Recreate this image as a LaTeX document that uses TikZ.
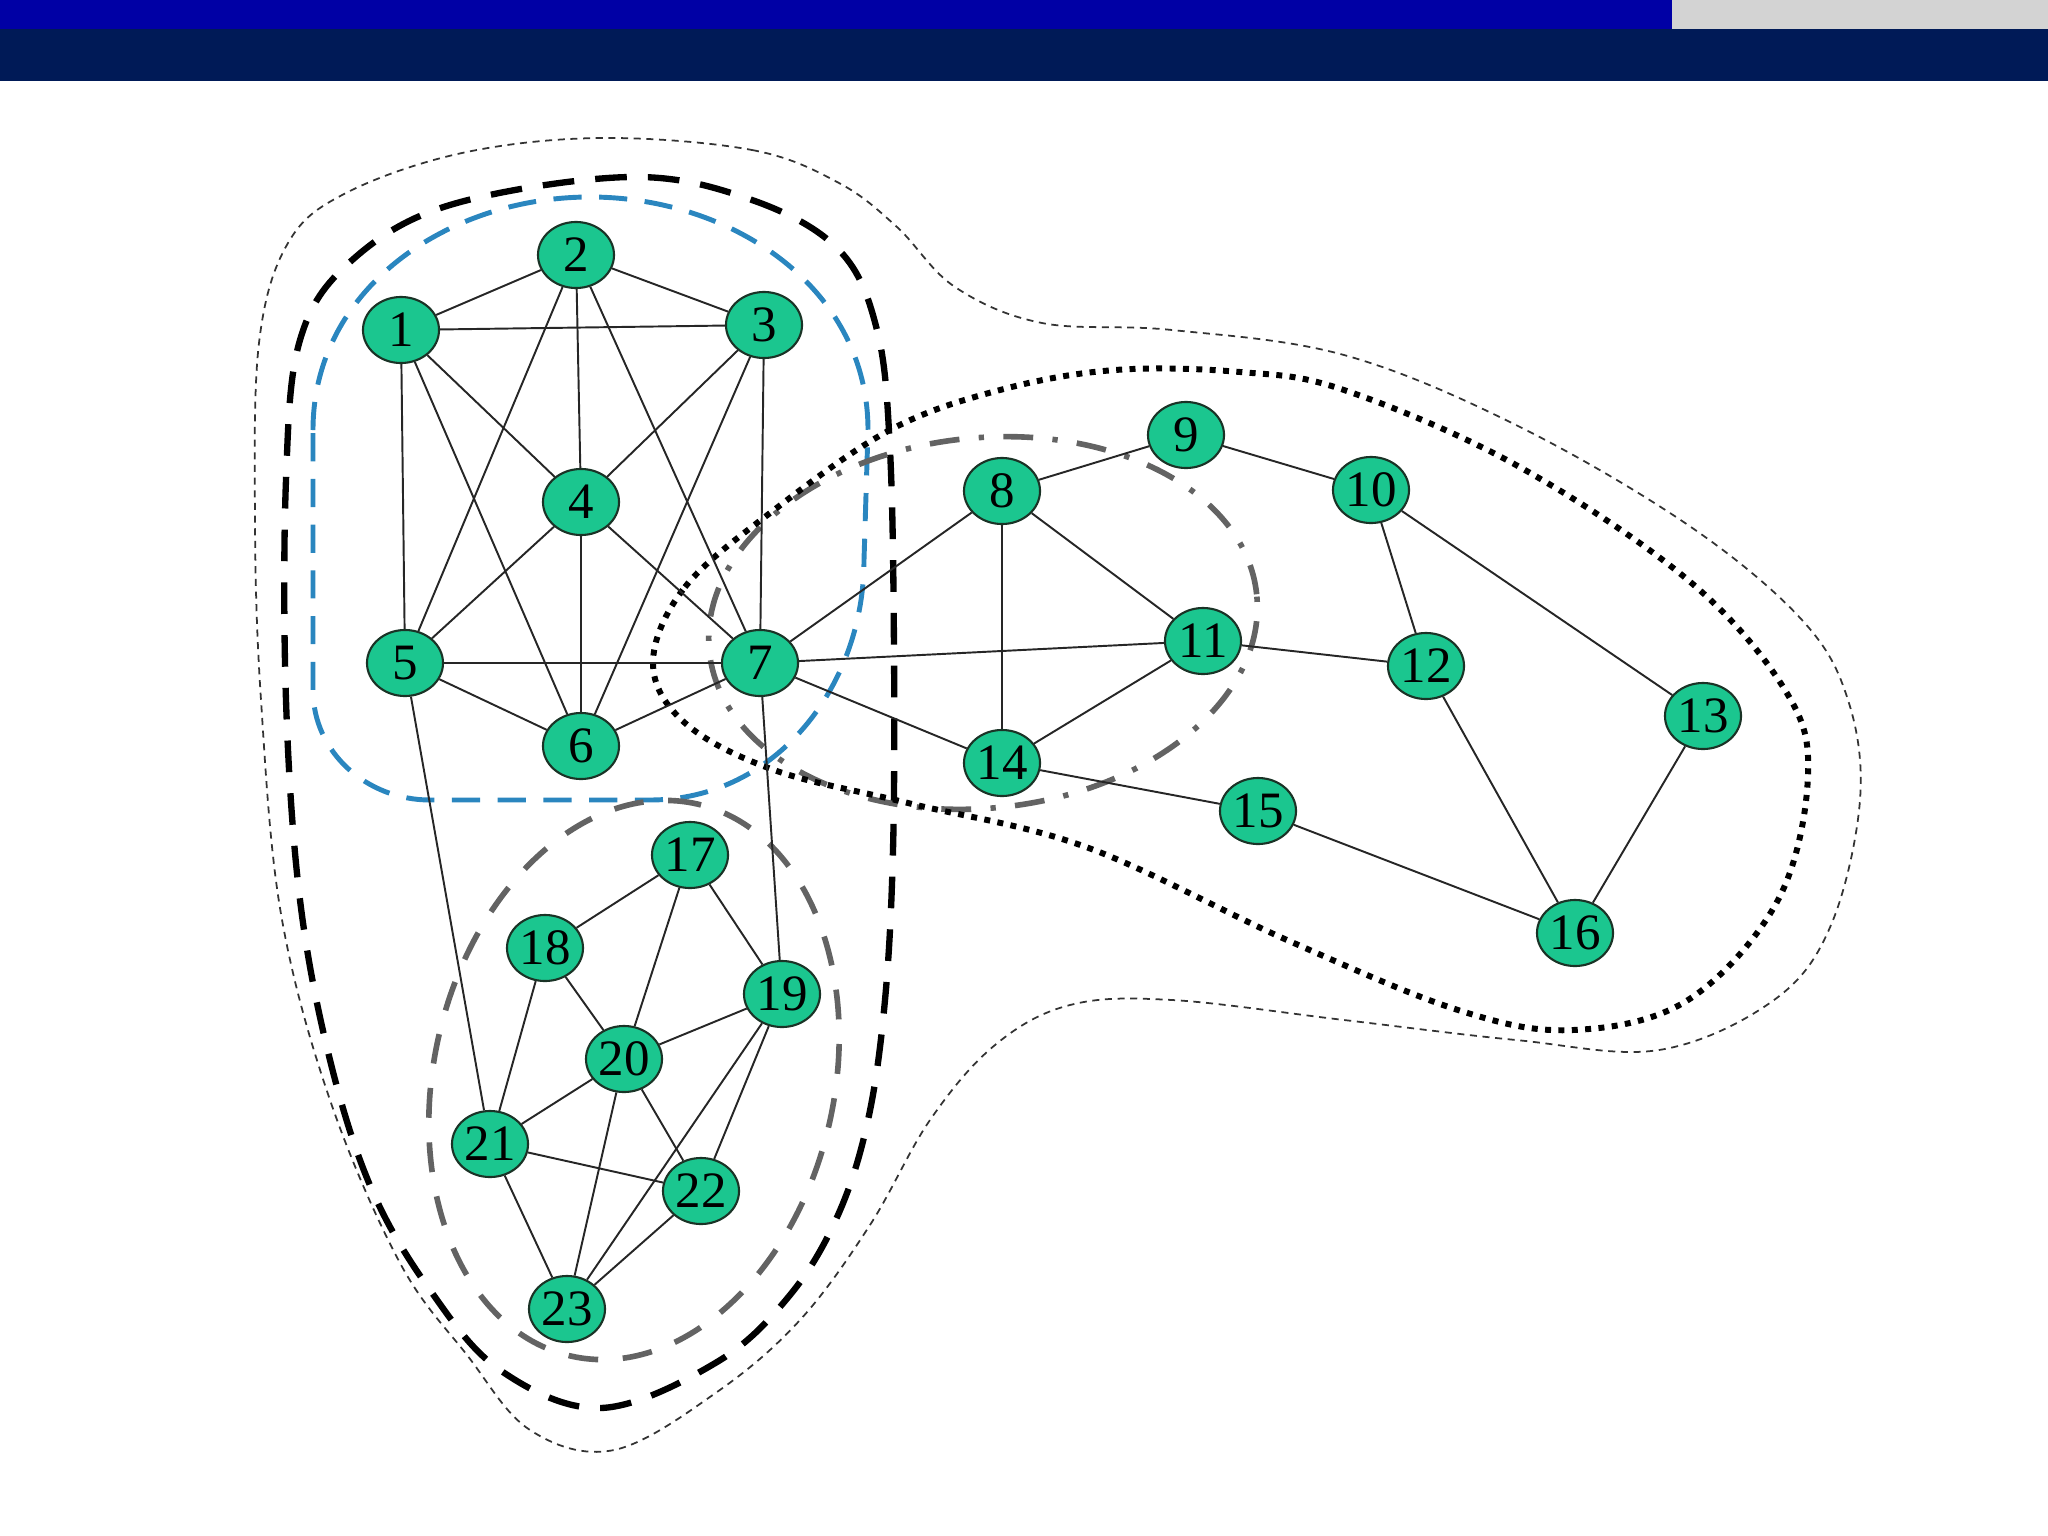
\documentclass[tikz,border=0pt]{standalone}
\usepackage{fontspec}
\setmainfont{Liberation Serif}
\definecolor{bannerblue}{HTML}{0000A5}
\definecolor{bannernavy}{HTML}{001A57}
\definecolor{bannergrey}{HTML}{D3D3D3}
\definecolor{nodegreen}{HTML}{1BC68F}
\definecolor{nodeline}{HTML}{1A3326}
\definecolor{groupblue}{HTML}{2A86BF}
\definecolor{groupgrey}{HTML}{636363}
\usepackage{tikz}
\usetikzlibrary{shapes, arrows.meta, positioning, fit, calc}

\begin{document}
\begin{tikzpicture}[x=0.01cm, y=-0.01cm,
        vertex/.style={ellipse, draw=nodeline, fill=nodegreen, line width=0.6pt,
                       minimum width=0.76cm, minimum height=0.66cm, inner sep=0pt,
                       font=\fontsize{14.5}{14.5}\selectfont},
        link/.style={draw=black!85, line width=0.55pt},
        outerline/.style={draw=black!80, line width=0.5pt, dash pattern=on 2pt off 1.6pt},
        groupline/.style={draw=black, line width=1.8pt, dash pattern=on 9pt off 6pt},
        blueline/.style={draw=groupblue, line width=1.4pt, dash pattern=on 8pt off 5pt},
        subline/.style={draw=groupgrey, line width=1.6pt, dash pattern=on 8.5pt off 7pt},
        dashdotline/.style={draw=groupgrey, line width=1.6pt,
                            dash pattern=on 8.5pt off 5.5pt on 1.5pt off 5.5pt},
        dotline/.style={draw=black, line width=1.7pt, dash pattern=on 1.7pt off 2.1pt}
      ]
        \useasboundingbox (0,0) rectangle (2048,1536);
        % banner
        \fill[bannerblue] (0,0) rectangle (1672,29);
        \fill[bannergrey] (1672,0) rectangle (2048,29);
        \fill[bannernavy] (0,29) rectangle (2048,81);

        % enclosures
        \draw[outerline] plot[smooth cycle, tension=0.6] coordinates {
          (601,138) (752,150) (839,183) (897,227) (955,287) (1042,323) (1172,330)
          (1344,355) (1516,425) (1688,525) (1802,620) (1848,700) (1860,800)
          (1831,925) (1774,1000) (1659,1050) (1516,1040) (1344,1020) (1172,1000)
          (1070,1005) (995,1045) (930,1120) (870,1225) (800,1320) (717,1392)
          (614,1450) (530,1430) (467,1355) (400,1263) (330,1100) (281,914)
          (261,700) (255,522) (259,343) (288,243) (346,193) (462,153)};
        \draw[groupline] plot[smooth cycle, tension=0.6] coordinates {
          (630,177) (752,200) (839,250) (877,330) (890,450) (894,650) (893,850)
          (885,1000) (868,1120) (838,1215) (790,1295) (717,1362) (601,1408)
          (500,1370) (430,1290) (372,1190) (330,1060) (300,900) (286,700)
          (286,480) (300,340) (350,262) (450,205)};
        \draw[blueline] (313,430) to[out=90,in=180] (590,197) to[out=0,in=90] (868,430)
          -- (864,560) to[out=-90,in=0] (650,800) -- (430,800)
          to[out=180,in=-90] (313,690) -- cycle;
        \draw[subline, rotate around={77:(634,1080)}]
          (634,1080) ellipse [x radius=2.83cm, y radius=2cm];
        \draw[dashdotline, rotate around={6:(983,623)}]
          (983,623) ellipse [x radius=2.75cm, y radius=1.85cm];
        \draw[dotline] plot[smooth cycle, tension=0.6] coordinates {
          (653,663) (685,587) (774,510) (890,430) (1000,390) (1115,370) (1240,372)
          (1344,390) (1516,465) (1688,580) (1785,690) (1808,775) (1778,900)
          (1688,1000) (1573,1030) (1458,1010) (1287,940) (1086,847) (908,803)
          (774,770) (685,723)};

        % vertices
        \node[vertex] (v1) at (401,330) {1};
        \node[vertex] (v2) at (576,255) {2};
        \node[vertex] (v3) at (764,325) {3};
        \node[vertex] (v4) at (581,502) {4};
        \node[vertex] (v5) at (405,663) {5};
        \node[vertex] (v6) at (581,746) {6};
        \node[vertex] (v7) at (760,663) {7};
        \node[vertex] (v8) at (1002,491) {8};
        \node[vertex] (v9) at (1186,435) {9};
        \node[vertex] (v10) at (1371,490) {10};
        \node[vertex] (v11) at (1203,641) {11};
        \node[vertex] (v12) at (1426,666) {12};
        \node[vertex] (v13) at (1703,716) {13};
        \node[vertex] (v14) at (1002,763) {14};
        \node[vertex] (v15) at (1258,811) {15};
        \node[vertex] (v16) at (1575,933) {16};
        \node[vertex] (v17) at (690,855) {17};
        \node[vertex] (v18) at (545,948) {18};
        \node[vertex] (v19) at (782,994) {19};
        \node[vertex] (v20) at (624,1059) {20};
        \node[vertex] (v21) at (490,1144) {21};
        \node[vertex] (v22) at (701,1191) {22};
        \node[vertex] (v23) at (567,1309) {23};

        % links
        \draw[link] (v1) -- (v2) (v1) -- (v3) (v1) -- (v4) (v1) -- (v5) (v1) -- (v6);
        \draw[link] (v2) -- (v3) (v2) -- (v4) (v2) -- (v5) (v2) -- (v7);
        \draw[link] (v3) -- (v4) (v3) -- (v6) (v3) -- (v7);
        \draw[link] (v4) -- (v5) (v4) -- (v6) (v4) -- (v7);
        \draw[link] (v5) -- (v6) (v5) -- (v7) (v6) -- (v7);
        \draw[link] (v5) -- (v21) (v7) -- (v19);
        \draw[link] (v7) -- (v8) (v7) -- (v11) (v7) -- (v14);
        \draw[link] (v8) -- (v9) (v8) -- (v11) (v8) -- (v14);
        \draw[link] (v9) -- (v10) (v10) -- (v12) (v10) -- (v13);
        \draw[link] (v11) -- (v12) (v11) -- (v14) (v14) -- (v15);
        \draw[link] (v12) -- (v16) (v13) -- (v16) (v15) -- (v16);
        \draw[link] (v17) -- (v18) (v17) -- (v19) (v17) -- (v20);
        \draw[link] (v18) -- (v20) (v18) -- (v21);
        \draw[link] (v19) -- (v20) (v19) -- (v22) (v19) -- (v23);
        \draw[link] (v20) -- (v21) (v20) -- (v22) (v20) -- (v23);
        \draw[link] (v21) -- (v22) (v21) -- (v23) (v22) -- (v23);
      \end{tikzpicture}
\end{document}
